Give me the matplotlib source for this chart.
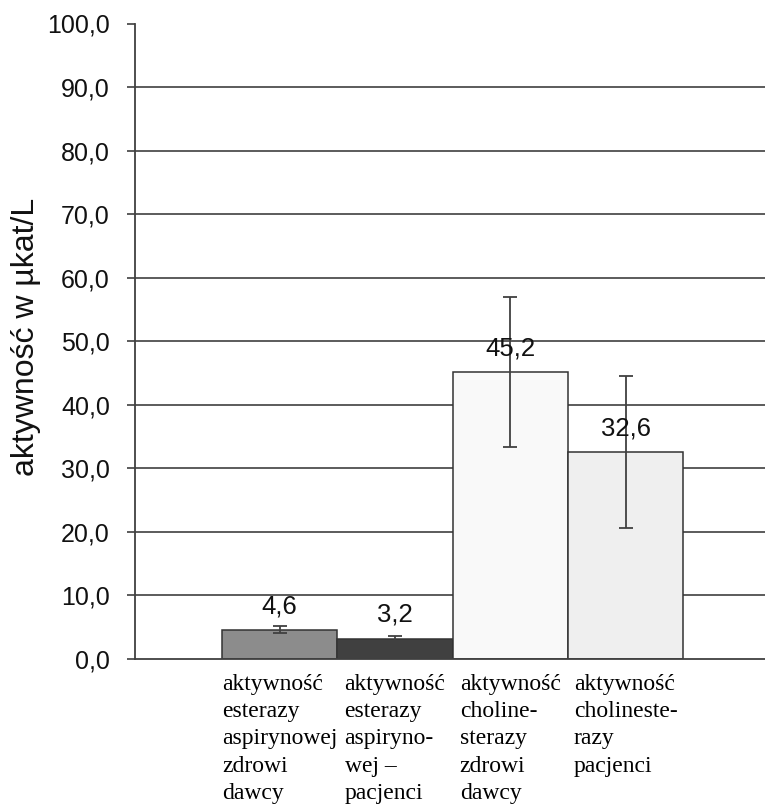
import numpy as np
import matplotlib
matplotlib.use('Agg')
from matplotlib import pyplot as plt

# values
categories = ['aktywność\nesterazy\naspirynowej\nzdrowi\ndawcy',
              'aktywność\nesterazy\naspiryno-\nwej –\npacjenci',
              'aktywność\ncholine-\nsterazy\nzdrowi\ndawcy',
              'aktywność\ncholineste-\nrazy\npacjenci']
values = [4.6, 3.2, 45.2, 32.6]
errors = [0.55, 0.4, 11.8, 12.0]
value_labels = ['4,6', '3,2', '45,2', '32,6']
yticks = [0, 10, 20, 30, 40, 50, 60, 70, 80, 90, 100]
ytick_labels = ['0,0', '10,0', '20,0', '30,0', '40,0', '50,0',
                '60,0', '70,0', '80,0', '90,0', '100,0']
colors = ['#8c8c8c', '#404040', '#f9f9f9', '#efefef']

line_col = '#404040'

fig = plt.figure(figsize=(7.65, 8.11), dpi=100)
ax = fig.add_axes([135 / 765, 1 - 659 / 811, 1 - 135 / 765, (659 - 23.5) / 811])

x = np.arange(len(values))
# gridlines (no line at 100)
for t in yticks[1:-1]:
    ax.axhline(t, color=line_col, lw=1.2, zorder=0)

ax.bar(x, values, width=1.0, color=colors, edgecolor='#333333', linewidth=1.1, zorder=2)
ax.errorbar(x, values, yerr=errors, fmt='none', ecolor=line_col, elinewidth=1.3,
            capsize=5, capthick=1.3, zorder=3)

for xi, v, lab in zip(x, values, value_labels):
    ax.annotate(lab, (xi, v), xytext=(0, 12), textcoords='offset points',
                ha='center', va='baseline', fontsize=18.5, family='Liberation Sans',
                color='#111111', zorder=4)

ax.set_xlim(-1.255, 4.21)
ax.set_ylim(0, 100)
ax.set_yticks(yticks)
ax.set_yticklabels(ytick_labels, fontsize=18, family='Liberation Sans', color='#111111')
ax.tick_params(axis='y', length=6, width=1.2, color=line_col, pad=12)

ax.set_xticks(x)
ax.set_xticklabels(categories, fontsize=17, family='Liberation Serif', linespacing=1.38)
for t in ax.get_xticklabels():
    t.set_multialignment('left')
ax.tick_params(axis='x', length=0, pad=11)

for s in ['top', 'right']:
    ax.spines[s].set_visible(False)
for s in ['left', 'bottom']:
    ax.spines[s].set_color(line_col)
    ax.spines[s].set_linewidth(1.3)

fig.text(26 / 765, 1 - 337 / 811, 'aktywność w µkat/L', rotation=90,
         ha='center', va='center', fontsize=23, family='Liberation Sans', color='#111111')

fig.savefig('out.png', dpi=100)
